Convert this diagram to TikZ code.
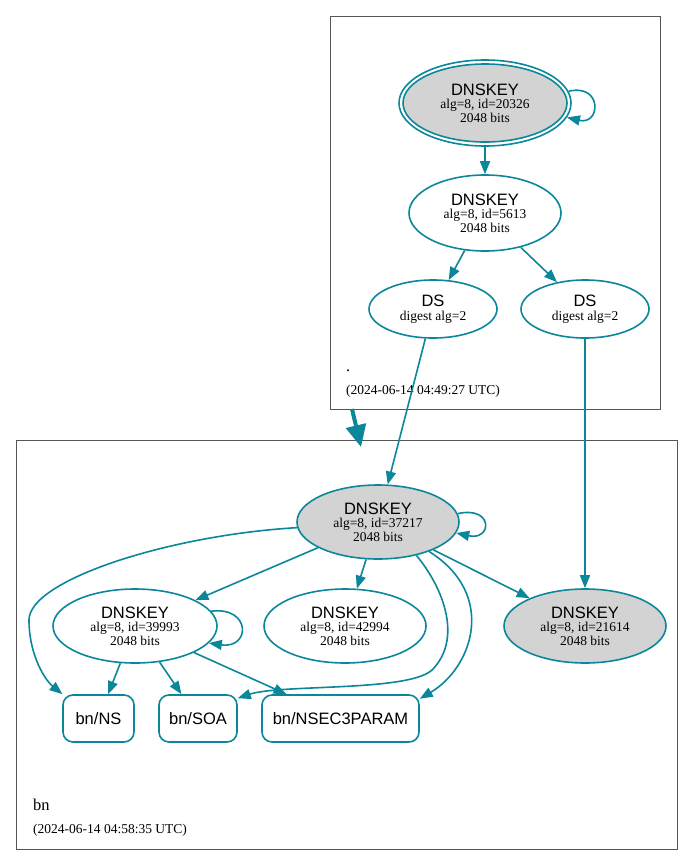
\documentclass[tikz,border=0pt]{standalone}
\usepackage{fontspec}
\setmainfont{Liberation Serif}
\setsansfont{Liberation Sans}
\usetikzlibrary{shapes.geometric,arrows.meta}
\definecolor{dnsteal}{HTML}{0A879A}
\definecolor{kskgray}{HTML}{D3D3D3}
\definecolor{clustergray}{HTML}{555555}
\newcommand{\keylabel}[1]{{\fontsize{16.5}{15}\selectfont\sffamily DNSKEY}\\alg=8, id=#1\\2048 bits}
\newcommand{\dslabel}{{\fontsize{16.5}{15}\selectfont\sffamily DS}\\digest alg=2}

\begin{document}
\begin{tikzpicture}[x=1pt, y=-1pt,
    key/.style={ellipse, draw=dnsteal, line width=1.6pt, inner sep=0pt, align=center,
      minimum width=162pt, minimum height=74pt, font=\fontsize{13.5}{13.5}\selectfont},
    ksk/.style={key, fill=kskgray},
    dsnode/.style={key, minimum width=128pt, minimum height=58pt},
    rrset/.style={rectangle, rounded corners=10pt, draw=dnsteal, line width=1.6pt,
      minimum height=47pt, inner sep=0pt, font=\fontsize{16.5}{18}\selectfont\sffamily},
    link/.style={->, >={Triangle[length=13pt,width=10pt]}, dnsteal, line width=1.6pt},
    cluster/.style={draw=clustergray, line width=0.8pt},
    clustername/.style={anchor=base west, inner sep=0pt, font=\fontsize{16.5}{18}\selectfont},
    clusterdate/.style={anchor=base west, inner sep=0pt, font=\fontsize{13.5}{15}\selectfont}]
  \useasboundingbox (0,0) rectangle (693,865);

  % zone boxes
  \draw[cluster] (330,16) rectangle (660,409);
  \draw[cluster] (16,440) rectangle (677,849);
  \node[clustername] (rootname) at (346,371) {.};
  \node[clusterdate] (rootdate) at (346,394) {(2024-06-14 04:49:27 UTC)};
  \node[clustername] (bnname) at (33,810) {bn};
  \node[clusterdate] (bndate) at (33,833) {(2024-06-14 04:58:35 UTC)};

  % root zone
  \node[ksk, minimum width=164pt, minimum height=78pt] (k20326) at (485,103) {\keylabel{20326}};
  \node[ellipse, draw=dnsteal, line width=1.6pt, minimum width=172pt, minimum height=86pt] (k20326out) at (485,103) {};
  \node[key, minimum width=152pt, minimum height=76pt] (k5613) at (485,213) {\keylabel{5613}};
  \node[dsnode] (dsleft) at (433,309) {\dslabel};
  \node[dsnode] (dsright) at (585,309) {\dslabel};

  % bn zone
  \node[ksk] (k37217) at (378,522) {\keylabel{37217}};
  \node[key, minimum width=164pt] (k39993) at (135,626) {\keylabel{39993}};
  \node[key] (k42994) at (345,626) {\keylabel{42994}};
  \node[ksk] (k21614) at (585,626) {\keylabel{21614}};
  \node[rrset, minimum width=71pt] (ns) at (98.5,718.5) {bn/NS};
  \node[rrset, minimum width=78pt] (soa) at (198,718.5) {bn/SOA};
  \node[rrset, minimum width=157pt] (nsec) at (340.5,718.5) {bn/NSEC3PARAM};

  % delegation
  \coordinate (rootexit) at (352,409);
  \coordinate (bnentry) at (361,447);
  \draw[dnsteal, line width=4pt, -{Triangle[length=22pt,width=20pt]}] (rootexit) -- (bnentry);

  % root edges
  \draw[link] (k20326out.8) .. controls +(34,-8) and +(34,8) .. (k20326out.-10);
  \draw[link] (k20326out) -- (k5613);
  \draw[link] (k5613) -- (dsleft);
  \draw[link] (k5613) -- (dsright);
  \draw[link] (dsleft) -- (k37217);
  \draw[link] (dsright) -- (k21614);

  % bn edges
  \draw[link] (k37217.6) .. controls +(36,-8) and +(36,8) .. (k37217.-8);
  \draw[link] (k39993.11) .. controls +(40,-5) and +(42,6) .. (k39993.-13);
  \draw[link] (k37217) -- (k39993);
  \draw[link] (k37217) -- (k42994);
  \draw[link] (k37217) -- (k21614);
  \draw[link] (k37217.184) .. controls (170,535) and (29,580) .. (29,620)
    .. controls (29,655) and (45,680) .. (ns.146);
  \draw[link] (k37217.-41) .. controls (445,590) and (462,640) .. (432,670)
    .. controls (408,692) and (280,684) .. (soa.27);
  \draw[link] (k37217.-30) .. controls (498,595) and (472,668) .. (nsec.14);
  \draw[link] (k39993) -- (ns);
  \draw[link] (k39993) -- (soa);
  \draw[link] (k39993) -- (nsec);
\end{tikzpicture}
\end{document}
